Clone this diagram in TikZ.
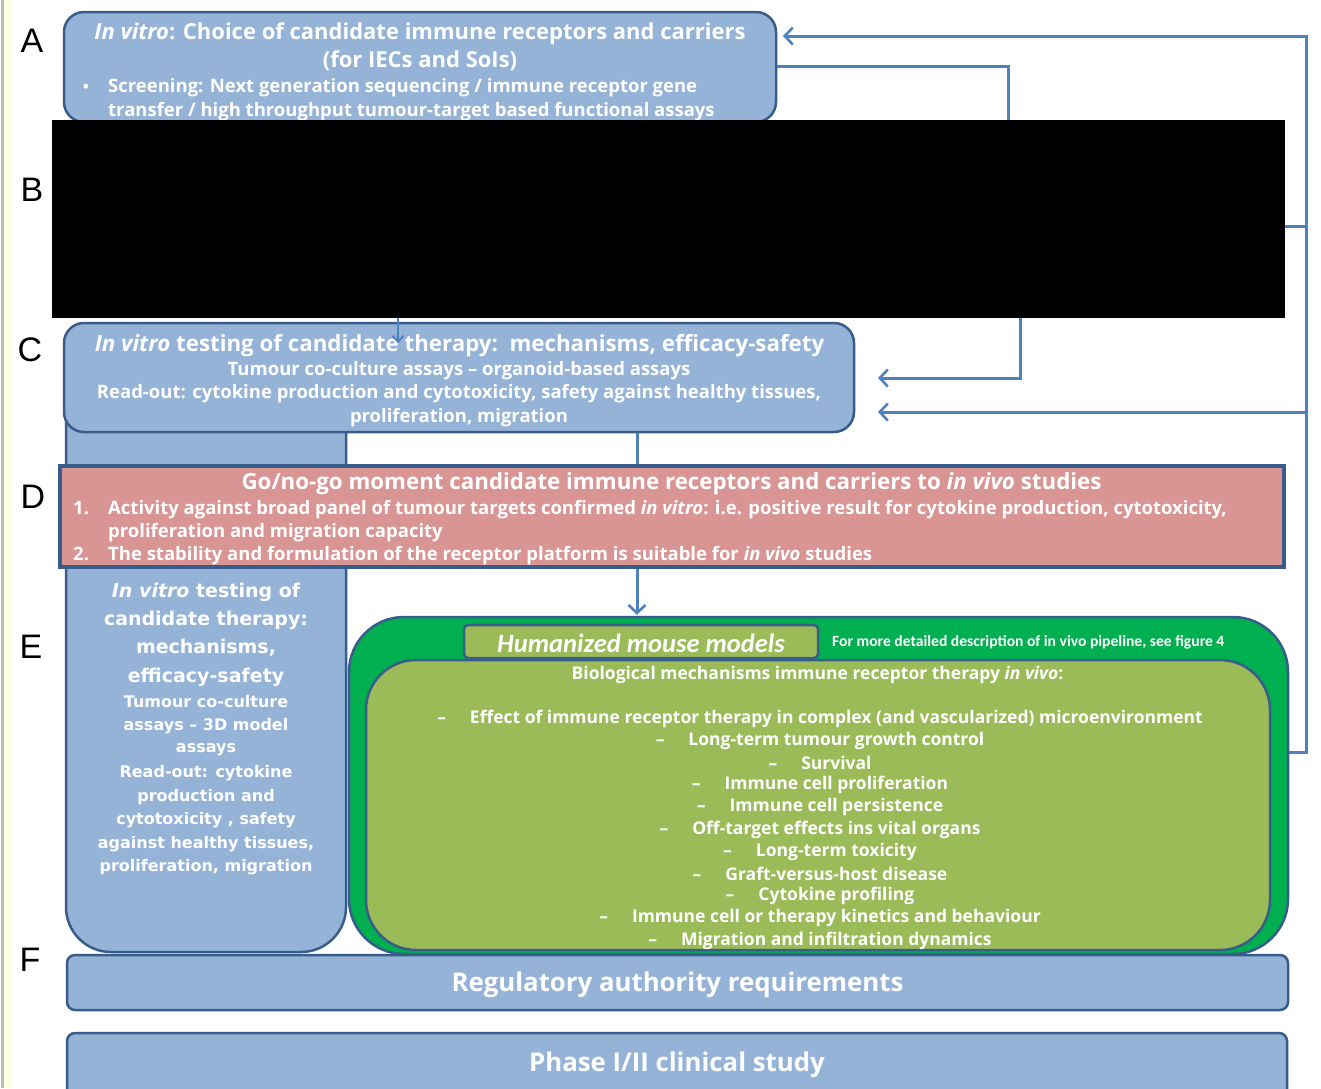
\documentclass[tikz,border=0pt]{standalone}
\usepackage{fontspec}
\setmainfont{Open Sans}
\newfontfamily\calfont{Carlito}
\newfontfamily\dvfont{DejaVu Sans}
\newfontfamily\libfont{Liberation Sans}
\usetikzlibrary{arrows.meta}
\definecolor{boxblue}{HTML}{95B3D7}
\definecolor{edgeblue}{HTML}{385D8A}
\definecolor{linkblue}{HTML}{4F81BD}
\definecolor{gonogo}{HTML}{D99594}
\definecolor{dgreen}{HTML}{00B050}
\definecolor{lgreen}{HTML}{9BBB59}
\definecolor{stripy}{HTML}{FFFFE3}
\definecolor{stripg}{HTML}{BDBDBD}
\newcommand{\bsz}[1]{\fontsize{#1}{#1}\selectfont\bfseries}
\begin{document}
\begin{tikzpicture}[x=1pt,y=-1pt,
  bluebox/.style={draw=edgeblue, line width=2.5pt, fill=boxblue, inner sep=0pt},
  wt/.style={text=white, inner sep=0pt, yshift=-2pt},
  link/.style={draw=linkblue, line width=3pt},
  arr/.style={link, -{Straight Barb[length=8pt,width=17pt,line width=2.6pt]}},
  smallarr/.style={link, line width=2pt, -{Straight Barb[length=6pt,width=11pt,line width=2pt]}},
  letter/.style={font=\libfont\fontsize{34}{34}\selectfont, inner sep=0pt},
  listline/.style={wt, font=\bsz{17.5}},
]
\useasboundingbox (0,0) rectangle (1321,1088);
\clip (0,0) rectangle (1321,1088);
\fill[white] (0,0) rectangle (1321,1088);
\fill[stripy] (4,0) rectangle (11,1088);
\fill[stripg] (1,0) rectangle (4,1088);

% side letters
\node[letter] (LA) at (32,41) {A};
\node[letter] (LB) at (32,190) {B};
\node[letter] (LC) at (30,350) {C};
\node[letter] (LD) at (33,497) {D};
\node[letter] (LE) at (31,647) {E};
\node[letter] (LF) at (30,960) {F};

% E tall box
\node[bluebox, rounded corners=45pt, minimum width=280pt, minimum height=572pt] (E) at (206,666) {};
% C box
\node[bluebox, rounded corners=20pt, minimum width=790pt, minimum height=109pt] (C) at (459,377.5) {};
% D box
\node[draw=edgeblue, line width=3.5pt, fill=gonogo, inner sep=0pt, minimum width=1224pt, minimum height=101pt] (D) at (672,516.5) {};
% green boxes
\node[draw=edgeblue, line width=2.5pt, fill=dgreen, rounded corners=55pt, inner sep=0pt, minimum width=939pt, minimum height=337pt] (G) at (818.5,785.5) {};
\node[draw=edgeblue, line width=2.5pt, fill=lgreen, rounded corners=50pt, inner sep=0pt, minimum width=904pt, minimum height=290pt] (GI) at (818,805) {};
\node[draw=edgeblue, line width=2.5pt, fill=lgreen, rounded corners=4pt, inner sep=0pt, minimum width=354pt, minimum height=33pt] (HM) at (641,641.5) {};
% F and phase boxes
\node[bluebox, rounded corners=8pt, minimum width=1221pt, minimum height=55pt] (F) at (677.5,982.5) {};
\node[bluebox, rounded corners=8pt, minimum width=1220pt, minimum height=70pt] (P) at (677,1068) {};
% A box
\node[bluebox, rounded corners=20pt, minimum width=712pt, minimum height=110pt] (A) at (420,67) {};

% A texts
\node[wt, font=\bsz{22}] (At1) at (420,32) {\textit{In vitro}: Choice of candidate immune receptors and carriers};
\node[wt, font=\bsz{22}] (At2) at (420,59) {(for IECs and SoIs)};
\node[wt, font=\bsz{16}] (Ab) at (86,86) {\textbullet};
\node[wt, font=\bsz{18.5}, anchor=west] (At3) at (108,86) {Screening: Next generation sequencing / immune receptor gene};
\node[wt, font=\bsz{18.5}, anchor=west] (At4) at (108,110) {transfer / high throughput tumour-target based functional assays};

% C texts
\node[wt, font=\bsz{22.3}] (Ct1) at (459.5,344) {\textit{In vitro} testing of candidate therapy:\ \ mechanisms, efficacy-safety};
\node[wt, font=\bsz{18.5}] (Ct2) at (459,369) {Tumour co-culture assays – organoid-based assays};
\node[wt, font=\bsz{18.5}] (Ct3) at (459,392) {Read-out: cytokine production and cytotoxicity, safety against healthy tissues,};
\node[wt, font=\bsz{18.5}] (Ct4) at (459,416) {proliferation, migration};

% D texts
\node[wt, font=\bsz{22.3}] (Dt1) at (671.5,482) {Go/no-go moment candidate immune receptors and carriers to \textit{in vivo} studies};
\node[wt, font=\bsz{18.5}, anchor=west] (Dn1) at (73,508) {\vphantom{Apy}1.};
\node[wt, font=\bsz{18.5}, anchor=west] (Dt2) at (108,508) {\vphantom{Apy}Activity against broad panel of tumour targets confirmed \textit{in vitro}: i.e. positive result for cytokine production, cytotoxicity,};
\node[wt, font=\bsz{18.5}, anchor=west] (Dt3) at (108,531) {\vphantom{Apy}proliferation and migration capacity};
\node[wt, font=\bsz{18.5}, anchor=west] (Dn2) at (73,554) {\vphantom{Apy}2.};
\node[wt, font=\bsz{18.5}, anchor=west] (Dt4) at (108,554) {\vphantom{Apy}The stability and formulation of the receptor platform is suitable for \textit{in vivo} studies};

% E texts
\node[wt, font=\dvfont\bsz{19}] (Et1) at (206,590) {\textit{In vitro} testing of};
\node[wt, font=\dvfont\bsz{19}] (Et2) at (206,618) {candidate therapy:};
\node[wt, font=\dvfont\bsz{19}] (Et3) at (206,646) {mechanisms,};
\node[wt, font=\dvfont\bsz{19}] (Et4) at (206,675) {efficacy-safety};
\node[wt, font=\dvfont\bsz{16}] (Et5) at (206,700) {Tumour co-culture};
\node[wt, font=\dvfont\bsz{16}] (Et6) at (206,724) {assays – 3D model};
\node[wt, font=\dvfont\bsz{16}] (Et7) at (206,748) {assays};
\node[wt, font=\dvfont\bsz{16}] (Et8) at (206,771) {Read-out: cytokine};
\node[wt, font=\dvfont\bsz{16}] (Et9) at (206,795) {production and};
\node[wt, font=\dvfont\bsz{16}] (Et10) at (206,818) {cytotoxicity , safety};
\node[wt, font=\dvfont\bsz{16}] (Et11) at (206,842) {against healthy tissues,};
\node[wt, font=\dvfont\bsz{16}] (Et12) at (206,865) {proliferation, migration};

% green texts
\node[wt, font=\calfont\bsz{26.5}\itshape] (HMt) at (HM) {Humanized mouse models};
\node[wt, font=\calfont\bsz{15.6}, anchor=west] (Gref) at (832,640) {For more detailed description of in vivo pipeline, see figure 4};
\node[wt, font=\bsz{17.5}] (Gh) at (817.5,673) {Biological mechanisms immune receptor therapy \textit{in vivo}:};
\node[listline] (G1) at (820,717) {–\hspace{24pt}Effect of immune receptor therapy in complex (and vascularized) microenvironment};
\node[listline] (G2) at (820,739) {–\hspace{24pt}Long-term tumour growth control};
\node[listline] (G3) at (820,761) {–\hspace{24pt}Survival};
\node[listline] (G4) at (820,783) {–\hspace{24pt}Immune cell proliferation};
\node[listline] (G5) at (820,805) {–\hspace{24pt}Immune cell persistence};
\node[listline] (G6) at (820,828) {–\hspace{24pt}Off-target effects ins vital organs};
\node[listline] (G7) at (820,850) {–\hspace{24pt}Long-term toxicity};
\node[listline] (G8) at (820,872) {–\hspace{24pt}Graft-versus-host disease};
\node[listline] (G9) at (820,894) {–\hspace{24pt}Cytokine profiling};
\node[listline] (G10) at (820,916) {–\hspace{24pt}Immune cell or therapy kinetics and behaviour};
\node[listline] (G11) at (820,939) {–\hspace{24pt}Migration and infiltration dynamics};

% F and phase texts
\node[wt, font=\bsz{25.8}] (Ft) at (F) {Regulatory authority requirements};
\node[wt, font=\bsz{25.8}] (Pt) at (677,1063) {Phase I/II clinical study};

% helper coordinates
\coordinate (xc) at (637,0);
\coordinate (xb) at (398,0);
\coordinate (y66) at (0,66);
\coordinate (y226) at (0,226);
\coordinate (y752) at (0,752);
\coordinate (cIn1) at (878,378);
\coordinate (cIn2) at (878,412);
\coordinate (aIn) at (783,36);
\coordinate (rTop) at (1306,36);
\coordinate (rBot) at (1306,752);
\coordinate (rMid) at (1306,412);
\coordinate (rB) at (1306,226);

% connectors
\draw[arr] (A.east |- y66) -| (1008,230) -- (1020,230) |- (cIn1);
\draw[arr] (G.east |- y752) -- (rBot) -- (rTop) -- (aIn);
\draw[arr] (rMid) -- (cIn2);
\draw[link] (C.south -| xc) -- (D.north -| xc);
\draw[arr, shorten >=1pt] (D.south -| xc) -- (G.north -| xc);

% redaction box
\node[fill=black, inner sep=0pt, minimum width=1233pt, minimum height=198pt] (B) at (668.5,219) {};
\draw[link] (B.east |- y226) -- (rB);
\draw[smallarr] (B.south -| xb) -- ++(0,25);
\end{tikzpicture}
\end{document}
